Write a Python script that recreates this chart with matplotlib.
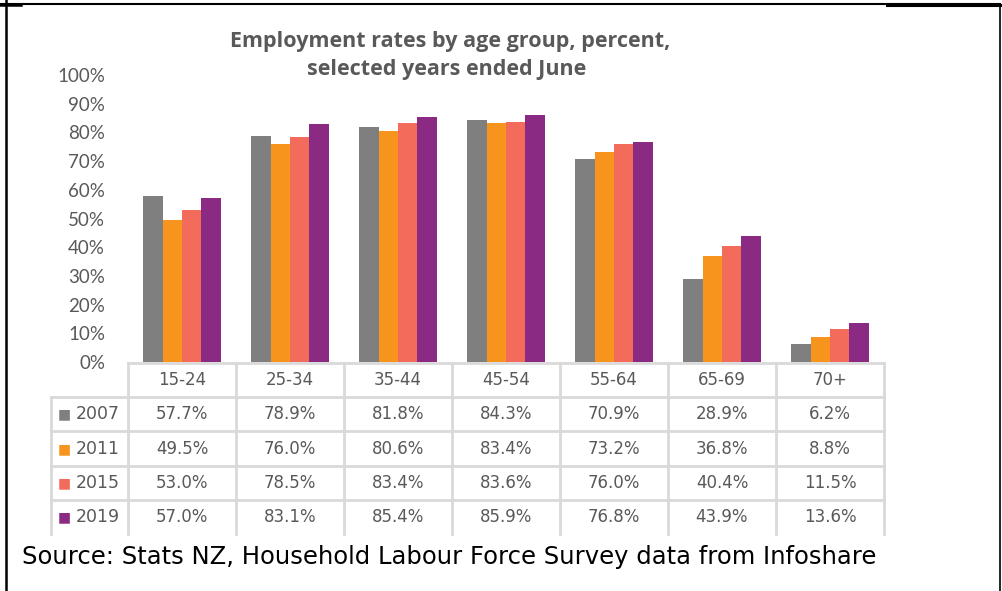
import matplotlib
matplotlib.use('Agg')
import matplotlib.pyplot as plt
from matplotlib.lines import Line2D
from matplotlib.transforms import blended_transform_factory

# data
age_groups = ['15-24', '25-34', '35-44', '45-54', '55-64', '65-69', '70+']
years = ['2007', '2011', '2015', '2019']
rate_2007 = [57.7, 78.9, 81.8, 84.3, 70.9, 28.9, 6.2]
rate_2011 = [49.5, 76.0, 80.6, 83.4, 73.2, 36.8, 8.8]
rate_2015 = [53.0, 78.5, 83.4, 83.6, 76.0, 40.4, 11.5]
rate_2019 = [57.0, 83.1, 85.4, 85.9, 76.8, 43.9, 13.6]
series = [rate_2007, rate_2011, rate_2015, rate_2019]
colors = ['#7f7f7f', '#f7941d', '#f26b5b', '#8b2a82']
yticks = [0, 10, 20, 30, 40, 50, 60, 70, 80, 90, 100]

W, H = 1002, 591
fig = plt.figure(figsize=(W / 100, H / 100), dpi=100)

def fy(py):
    return 1 - py / H

def fx(px):
    return px / W

# plot area
ax = fig.add_axes([fx(128), fy(362), fx(884) - fx(128), fy(75) - fy(362)])
n = len(age_groups)
bw = 0.18
for i, (vals, c) in enumerate(zip(series, colors)):
    xs = [k + (i - 1.5) * bw for k in range(n)]
    ax.bar(xs, vals, width=bw, color=c, zorder=2)

ax.set_xlim(-0.5, n - 0.5)
ax.set_ylim(0, 100)
ax.set_yticks(yticks)
ax.set_yticklabels([f'{t}%' for t in yticks], fontfamily='Lato', fontsize=13.5, color='#595959')
ax.tick_params(axis='y', length=0, pad=16.5)
ax.set_xticks([])
for s in ax.spines.values():
    s.set_visible(False)
ax.patch.set_alpha(0)

# title
fig.text(fx(450), fy(42), 'Employment rates by age group, percent,', ha='center', va='center',
         fontfamily='Open Sans', fontweight='bold', fontsize=15.5, color='#595959')
fig.text(fx(447), fy(70), 'selected years ended June', ha='center', va='center',
         fontfamily='Open Sans', fontweight='bold', fontsize=15.5, color='#595959')

# data table below the axis
tr = blended_transform_factory(ax.transData, fig.transFigure)
grid_c = '#d9d9d9'
row_lines = [363, 397, 431, 466, 500]
row_mid = [380, 414, 449, 483, 517]

def hline(x0, x1, py, transform):
    fig.add_artist(Line2D([x0, x1], [fy(py), fy(py)], color=grid_c, lw=2, transform=transform))

def vline(x, py0, py1, transform):
    fig.add_artist(Line2D([x, x], [fy(py0), fy(py1)], color=grid_c, lw=2, transform=transform))

hline(-0.5, n - 0.5, row_lines[0], tr)
for py in row_lines[1:]:
    hline(fx(51), fx(128), py, fig.transFigure)
    hline(-0.5, n - 0.5, py, tr)
vline(fx(51), row_lines[1], 534, fig.transFigure)
for k in range(n + 1):
    vline(k - 0.5, row_lines[0], 534, tr)

for k, g in enumerate(age_groups):
    fig.text(k, fy(row_mid[0]), g, transform=tr, ha='center', va='center',
             fontsize=12, color='#595959')
for r, (yr, vals, c) in enumerate(zip(years, series, colors)):
    py = row_mid[r + 1]
    fig.text(fx(58), fy(py), '\u25a0', ha='left', va='center', fontsize=10, color=c)
    fig.text(fx(76), fy(py), yr, ha='left', va='center', fontsize=12.5, color='#595959')
    for k, v in enumerate(vals):
        fig.text(k, fy(py), f'{v:.1f}%', transform=tr, ha='center', va='center',
                 fontsize=12, color='#595959')

# source note
fig.text(fx(22), fy(557), 'Source: Stats NZ, Household Labour Force Survey data from Infoshare',
         ha='left', va='center', fontsize=17.5, color='black')

# page borders
fig.add_artist(Line2D([fx(6), fx(6)], [0, 1], color='black', lw=1.8, transform=fig.transFigure))
fig.add_artist(Line2D([fx(1000), fx(1000)], [0, fy(4)], color='black', lw=1.2, transform=fig.transFigure))
fig.add_artist(Line2D([0, fx(1000)], [fy(4), fy(4)], color='black', lw=1.5, transform=fig.transFigure))
fig.add_artist(Line2D([0, fx(21)], [fy(5), fy(5)], color='black', lw=1.8, transform=fig.transFigure))
fig.add_artist(Line2D([fx(887), fx(1000)], [fy(5), fy(5)], color='black', lw=2.2, transform=fig.transFigure))

fig.savefig('out.png', dpi=100)
